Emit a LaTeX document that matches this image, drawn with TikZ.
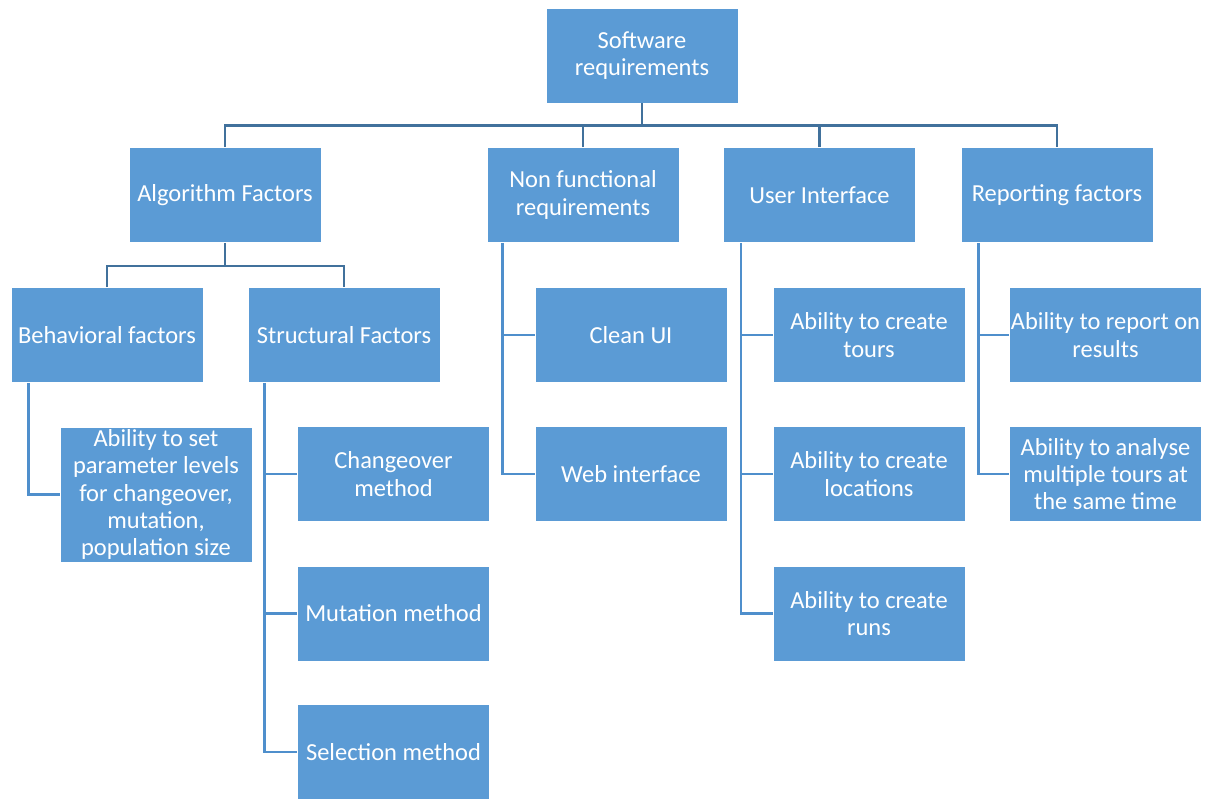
\documentclass[tikz,border=0pt]{standalone}
\usepackage{fontspec}
\setmainfont{Carlito}
\usepackage{xcolor}
\usepackage{tikz}
\usetikzlibrary{positioning}

\definecolor{boxblue}{HTML}{5B9BD5}
\definecolor{trunkblue}{HTML}{41719C}
\definecolor{branchblue}{HTML}{4F8FCC}

\tikzset{
  box/.style={rectangle, fill=boxblue, draw=white, line width=0.6pt, text=white,
    minimum width=4.8cm, minimum height=2.375cm, inner sep=0pt, align=center,
    font=\fontsize{17.4}{19.4}\selectfont},
  tallbox/.style={box, minimum height=3.375cm},
  trunk/.style={draw=trunkblue, line width=2pt},
  branch/.style={draw=branchblue, line width=2pt}
}

\begin{document}
\begin{tikzpicture}[x=0.025cm, y=-0.025cm]
			\useasboundingbox (0, 0) rectangle (1210, 798);
			% Level 0 and 1:
			\node[box](SW) at (642, 55.5){Software\\requirements};
			\node[box](ALG) at (225, 195){Algorithm Factors};
			\node[box](NFR) at (583, 195){Non functional\\requirements};
			\node[box](UI) at (819.5, 195){User Interface};
			\node[box](REP) at (1057, 195){Reporting factors};
			% Algorithm factors:
			\node[box](BEH) at (107, 335){Behavioral factors};
			\node[box](STR) at (344, 335){Structural Factors};
			\node[tallbox](PAR) at (156, 494.5){Ability to set\\parameter levels\\for changeover,\\mutation,\\population size};
			\node[box](CHG) at (393.5, 474){Changeover\\method};
			\node[box](MUT) at (393.5, 613.5){Mutation method};
			\node[box](SEL) at (393.5, 752){Selection method};
			% Non functional requirements:
			\node[box](CLEAN) at (631, 335){Clean UI};
			\node[box](WEB) at (631, 474){Web interface};
			% User interface:
			\node[box](TOURS) at (869, 335){Ability to create\\tours};
			\node[box](LOCS) at (869, 474){Ability to create\\locations};
			\node[box](RUNS) at (869, 613.5){Ability to create\\runs};
			% Reporting factors:
			\node[box](RES) at (1105.5, 335){Ability to report on\\results};
			\node[box](MULTI) at (1105.5, 474){Ability to analyse\\multiple tours at\\the same time};
			% Wires:
			\path (SW.south) ++(0, 22) coordinate (bus);
			\draw[trunk] (SW.south) -- (bus);
			\draw[trunk] (ALG.north) |- (bus) -| (REP.north);
			\draw[trunk] (NFR.north) -- (NFR.north |- bus);
			\draw[trunk] (UI.north) -- (UI.north |- bus);
			\path (ALG.south) ++(0, 23) coordinate (algbus);
			\draw[trunk] (ALG.south) -- (algbus);
			\draw[trunk] (BEH.north) |- (algbus) -| (STR.north);
			\path (BEH.south west) ++(18, 0) coordinate (behstem);
			\draw[branch] (behstem) |- (PAR.west);
			\path (STR.south west) ++(17, 0) coordinate (strstem);
			\draw[branch] (strstem) |- (SEL.west);
			\draw[branch] (CHG.west) -- (CHG.west -| strstem);
			\draw[branch] (MUT.west) -- (MUT.west -| strstem);
			\path (NFR.south west) ++(16, 0) coordinate (nfrstem);
			\draw[branch] (nfrstem) |- (WEB.west);
			\draw[branch] (CLEAN.west) -- (CLEAN.west -| nfrstem);
			\path (UI.south west) ++(18, 0) coordinate (uistem);
			\draw[branch] (uistem) |- (RUNS.west);
			\draw[branch] (TOURS.west) -- (TOURS.west -| uistem);
			\draw[branch] (LOCS.west) -- (LOCS.west -| uistem);
			\path (REP.south west) ++(18, 0) coordinate (repstem);
			\draw[branch] (repstem) |- (MULTI.west);
			\draw[branch] (RES.west) -- (RES.west -| repstem);
		\end{tikzpicture}
\end{document}
